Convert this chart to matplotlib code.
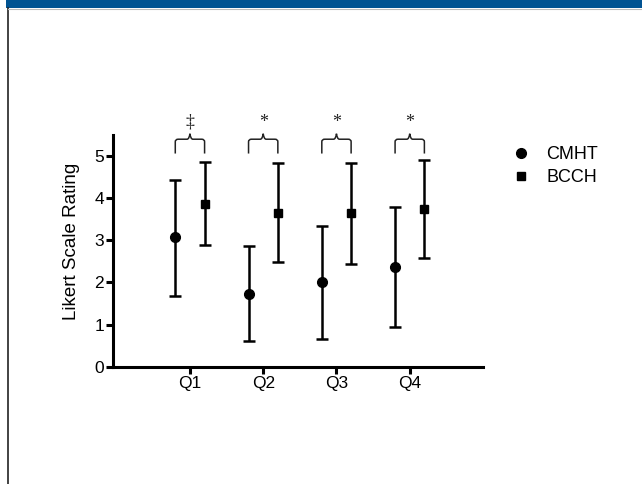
import matplotlib
matplotlib.use("Agg")
import matplotlib.pyplot as plt
from matplotlib.patches import Rectangle
from matplotlib.lines import Line2D
from matplotlib.path import Path
from matplotlib.patches import PathPatch

categories = ["Q1", "Q2", "Q3", "Q4"]
cmht_mean = [3.07, 1.72, 2.00, 2.36]
cmht_upper = [4.43, 2.86, 3.35, 3.79]
cmht_lower = [1.69, 0.62, 0.65, 0.95]
bcch_mean = [3.87, 3.65, 3.65, 3.75]
bcch_upper = [4.86, 4.83, 4.84, 4.90]
bcch_lower = [2.88, 2.48, 2.44, 2.58]
sig_marks = ["\u2021", "*", "*", "*"]

plt.rcParams['font.family'] = ['Liberation Sans', 'DejaVu Sans']

fig = plt.figure(figsize=(6.42, 4.84), dpi=100)
W, H = 642, 484

# slide frame
fig.patches.append(Rectangle((6 / W, 1 - 8 / H), 1, 8 / H, transform=fig.transFigure,
                             facecolor='#005392', edgecolor='none', zorder=0))
fig.lines.append(Line2D([7.5 / W, 7.5 / W], [0, 1 - 8 / H], transform=fig.transFigure,
                        color='#222222', lw=1.2))
fig.lines.append(Line2D([8 / W, 1], [1 - 9.3 / H, 1 - 9.3 / H], transform=fig.transFigure,
                        color='#bbbbbb', lw=0.8))

ax = fig.add_axes([113 / W, 1 - 366.7 / H, (483 - 113) / W, (366.7 - 135) / H])

x = list(range(1, len(categories) + 1))
off = 0.2
xc = [v - off for v in x]
xb = [v + off for v in x]

def errs(mean, lo, up):
    return [[m - l for m, l in zip(mean, lo)], [u - m for m, u in zip(mean, up)]]

ax.errorbar(xc, cmht_mean, yerr=errs(cmht_mean, cmht_lower, cmht_upper), fmt='o',
            color='black', ms=7, elinewidth=1.8, capsize=4.5, capthick=1.8,
            label='CMHT', clip_on=False, zorder=3)
ax.errorbar(xb, bcch_mean, yerr=errs(bcch_mean, bcch_lower, bcch_upper), fmt='s',
            color='black', ms=6, elinewidth=1.8, capsize=4.5, capthick=1.8,
            label='BCCH', clip_on=False, zorder=3)

# braces and significance marks
for i, q in enumerate(x):
    x0, x1 = q - off, q + off
    xm = q
    yb, yh, yp = 5.06, 5.40, 5.53
    r = 0.04
    verts = [(x0, yb), (x0, yh - 0.06), (x0, yh), (x0 + r, yh),
             (xm - r, yh), (xm - 0.01, yh), (xm, yp),
             (xm + 0.01, yh), (xm + r, yh),
             (x1 - r, yh), (x1, yh), (x1, yh - 0.06), (x1, yb)]
    codes = [Path.MOVETO, Path.LINETO, Path.CURVE3, Path.CURVE3,
             Path.LINETO, Path.CURVE3, Path.CURVE3,
             Path.CURVE3, Path.CURVE3,
             Path.LINETO, Path.CURVE3, Path.CURVE3, Path.LINETO]
    ax.add_patch(PathPatch(Path(verts, codes), facecolor='none', edgecolor='#222222',
                           lw=1.1, clip_on=False))
    ax.text(xm, 5.80, sig_marks[i], ha='center', va='center', fontsize=13,
            family=['Liberation Serif', 'DejaVu Serif'], color='#222222', clip_on=False)

ax.set_xlim(-0.05, 5.0)
ax.set_ylim(0, 5.5)
ax.set_xticks(x)
ax.set_xticklabels(categories)
ax.set_yticks([0, 1, 2, 3, 4, 5])
for s in ['top', 'right']:
    ax.spines[s].set_visible(False)
for s in ['left', 'bottom']:
    ax.spines[s].set_linewidth(2.2)
ax.tick_params(axis='both', width=2.2, length=5, labelsize=12.5, pad=1.5)
ax.set_ylabel('Likert Scale Rating', fontsize=13.5, labelpad=6)
ax.yaxis.set_label_coords(-0.088, 0.54)

handles = [Line2D([], [], marker='o', ls='none', color='black', ms=7),
           Line2D([], [], marker='s', ls='none', color='black', ms=6)]
fig.legend(handles, ['CMHT', 'BCCH'], loc='upper left',
           bbox_to_anchor=(503 / W, 1 - 137 / H), frameon=False, fontsize=13,
           handlelength=1.0, handletextpad=0.9, labelspacing=0.35, borderpad=0)

fig.savefig('out.png', dpi=100)
